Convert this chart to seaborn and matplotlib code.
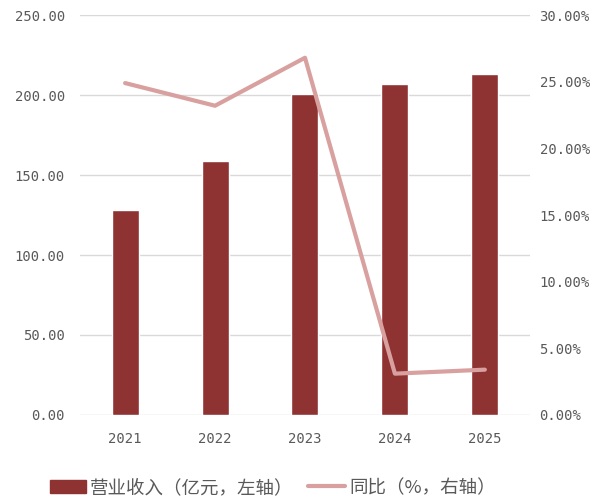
import matplotlib
matplotlib.use("Agg")
import matplotlib.pyplot as plt
from matplotlib.ticker import FuncFormatter
from matplotlib.patches import Patch
from matplotlib.lines import Line2D
import seaborn as sns
import pandas as pd

years = ["2021", "2022", "2023", "2024", "2025"]
revenue = [128.0, 158.5, 200.5, 207.0, 213.0]      # 营业收入（亿元）
yoy = [24.9, 23.2, 26.8, 3.1, 3.4]                 # 同比（%）

bar_color = "#8E3232"
line_color = "#D9A0A0"
text_color = "#595959"
grid_color = "#D9D9D9"

sns.set_theme(style="white")
plt.rcParams["font.family"] = ["Noto Sans CJK SC", "DejaVu Sans"]

df = pd.DataFrame({"year": years, "revenue": revenue, "yoy": yoy})

fig = plt.figure(figsize=(5.98, 5.03), dpi=100)
ax = fig.add_axes([0.134, 0.175, 0.752, 0.795])

sns.barplot(data=df, x="year", y="revenue", color=bar_color, width=0.3,
            saturation=1, ax=ax, zorder=2)
ax.set_ylim(0, 250)
ax.set_yticks([0, 50, 100, 150, 200, 250])
ax.yaxis.set_major_formatter(FuncFormatter(lambda v, p: f"{v:.2f}"))
ax.set_xlim(-0.5, 4.5)
ax.grid(axis="y", color=grid_color, linewidth=1, zorder=0)
ax.set_axisbelow(True)

ax2 = ax.twinx()
sns.lineplot(x=list(range(len(years))), y=yoy, color=line_color, linewidth=3,
             ax=ax2, zorder=3)
ax2.set_ylim(0, 30)
ax2.set_yticks([0, 5, 10, 15, 20, 25, 30])
ax2.yaxis.set_major_formatter(FuncFormatter(lambda v, p: f"{v:.2f}%"))
ax2.set_xlim(-0.5, 4.5)

for a in (ax, ax2):
    for s in a.spines.values():
        s.set_visible(False)
    a.set_xlabel("")
    a.set_ylabel("")
    a.tick_params(axis="both", length=0, labelsize=10, colors=text_color)
    for lbl in a.get_xticklabels() + a.get_yticklabels():
        lbl.set_family("DejaVu Sans Mono")
ax.tick_params(axis="y", pad=11)
ax2.tick_params(axis="y", pad=7)
ax.tick_params(axis="x", pad=12)

handles = [Patch(facecolor=bar_color, edgecolor=bar_color),
           Line2D([0], [0], color=line_color, linewidth=3)]
labels = ["营业收入（亿元，左轴）", "同比（%，右轴）"]
fig.legend(handles, labels, loc="center left", bbox_to_anchor=(0.055, 0.03),
           ncol=2, frameon=False, fontsize=13.3, handlelength=2.0,
           handletextpad=0.2, columnspacing=0.8, labelcolor=text_color)

fig.savefig("out.png", dpi=100)
